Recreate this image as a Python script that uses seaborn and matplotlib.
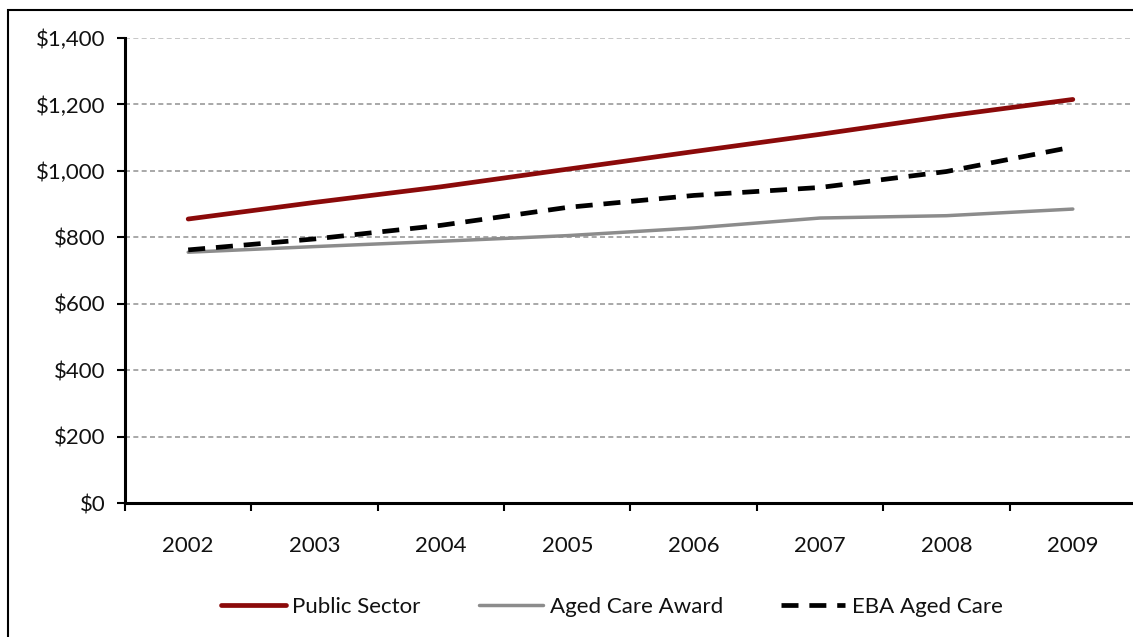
import matplotlib
matplotlib.use("Agg")
import matplotlib.pyplot as plt
from matplotlib.patches import Rectangle
from matplotlib.ticker import FuncFormatter, MultipleLocator, FixedLocator
import numpy as np
import pandas as pd
import seaborn as sns

# Weekly wage series by year
years = ["2002", "2003", "2004", "2005", "2006", "2007", "2008", "2009"]
public_sector = [855, 905, 952, 1005, 1058, 1110, 1165, 1215]
aged_care_award = [755, 772, 788, 805, 828, 858, 865, 885]
eba_aged_care = [762, 795, 836, 890, 926, 950, 998, 1072]

series_names = ["Public Sector", "Aged Care Award", "EBA Aged Care"]
series_values = [public_sector, aged_care_award, eba_aged_care]

sns.set_style("white")
plt.rcParams["font.family"] = ["Lato", "DejaVu Sans"]

fig = plt.figure(figsize=(11.33, 6.37), dpi=100)
ax = fig.add_axes([125 / 1133, 1 - 503 / 637, 1011 / 1133, (503 - 38) / 637])

styles = {
    "Public Sector": dict(color="#8B0A0A", linewidth=3.4, linestyle="-"),
    "Aged Care Award": dict(color="#8C8C8C", linewidth=2.5, linestyle="-"),
    "EBA Aged Care": dict(color="#000000", linewidth=3.4, linestyle=(0, (3.6, 2.3))),
}

for name, vals in zip(series_names, series_values):
    df = pd.DataFrame({"year": years, "value": vals})
    st = styles[name]
    sns.lineplot(data=df, x="year", y="value", ax=ax, label=name,
                 color=st["color"], linewidth=st["linewidth"],
                 linestyle=st["linestyle"], sort=False)

ax.set_xlim(-0.5, len(years) - 0.5)
ax.set_ylim(0, 1400)
ax.yaxis.set_major_locator(MultipleLocator(200))
ax.yaxis.set_major_formatter(FuncFormatter(lambda v, p: f"${v:,.0f}"))

# Category labels at centres, tick marks at category boundaries
ax.set_xticks(range(len(years)))
ax.set_xticklabels(years)
ax.xaxis.set_minor_locator(FixedLocator(np.arange(-0.5, len(years), 1.0)))
ax.tick_params(axis="x", which="major", length=0, pad=24, labelsize=16,
               labelcolor="#111111")
ax.tick_params(axis="x", which="minor", length=6, width=1.5, color="black",
               direction="out", bottom=True)
ax.tick_params(axis="y", which="major", length=6, width=1.5, color="black",
               direction="out", left=True, labelsize=16, pad=8,
               labelcolor="#111111")

ax.set_xlabel("")
ax.set_ylabel("")

# Horizontal dashed grid
for yv in range(200, 1401, 200):
    ax.axhline(yv, color="#9A9A9A" if yv < 1400 else "#BDBDBD",
               linewidth=1.2, linestyle=(0, (3, 2)), zorder=0)

for side in ["top", "right"]:
    ax.spines[side].set_visible(False)
for side in ["left", "bottom"]:
    ax.spines[side].set_color("black")
    ax.spines[side].set_linewidth(2.2)

handles, labels = ax.get_legend_handles_labels()
if ax.legend_:
    ax.legend_.remove()
fig.legend(handles, labels, loc="center", bbox_to_anchor=(612 / 1133, 1 - 607 / 637),
           ncol=3, frameon=False, fontsize=16, handlelength=2.9,
           columnspacing=2.6, handletextpad=0.3, labelcolor="#111111")

# Outer frame around the chart
fig.patches.append(Rectangle((8 / 1133, -0.05), 1.2, 1 - 10 / 637 + 0.05,
                             transform=fig.transFigure, fill=False,
                             edgecolor="black", linewidth=1.5))

fig.savefig("out.png", dpi=100)
